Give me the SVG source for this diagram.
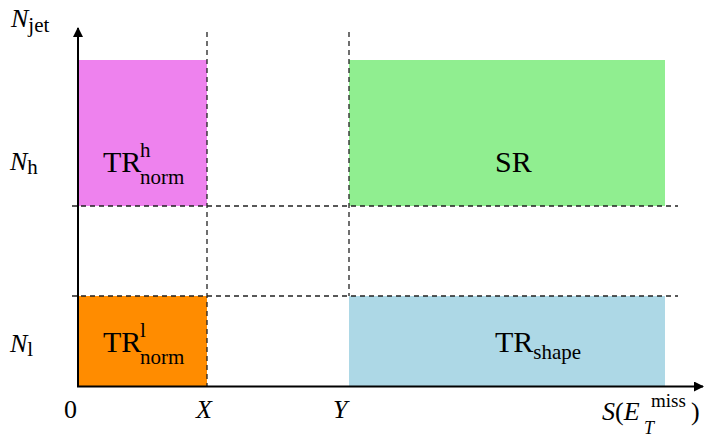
<svg xmlns="http://www.w3.org/2000/svg" width="704" height="438" viewBox="0 0 704 438">
<style>
text{font-family:"Liberation Serif","Times New Roman",serif;fill:#000}
.lab{font-size:30px}
.sub{font-size:21px}
.ax{font-size:26px}
.it{font-style:italic}
.dash{stroke:#222;stroke-width:1.3;stroke-dasharray:5 4;fill:none}
.axis{stroke:#000;stroke-width:2;fill:none}
</style>
<defs>
<marker id="ah" viewBox="0 0 10 10" refX="9" refY="5" markerWidth="10" markerHeight="10" markerUnits="userSpaceOnUse" orient="auto">
<path d="M0,0 L10,5 L0,10 z" fill="#000"/>
</marker>
</defs>
<g id="trh">
<rect x="78" y="60" width="129" height="146" fill="#EE82EE"/>
<text class="lab" x="103" y="172">TR</text>
<text class="sub" x="140" y="157">h</text>
<text class="sub" x="140" y="184">norm</text>
</g>
<g id="sr">
<rect x="349" y="60" width="316" height="146" fill="#90EE90"/>
<text class="lab" x="495" y="172">SR</text>
</g>
<g id="trl">
<rect x="78" y="296" width="129" height="90" fill="#FF8C00"/>
<text class="lab" x="103" y="352">TR</text>
<text class="sub" x="140" y="337">l</text>
<text class="sub" x="140" y="364">norm</text>
</g>
<g id="trshape">
<rect x="349" y="296" width="316" height="90" fill="#ADD8E6"/>
<text class="lab" x="495" y="352">TR<tspan class="sub" dy="7">shape</tspan></text>
</g>
<g id="connectors">
<line class="dash" x1="207" y1="32" x2="207" y2="386"/>
<line class="dash" x1="349" y1="32" x2="349" y2="296"/>
<line class="dash" x1="72" y1="206" x2="678" y2="206"/>
<line class="dash" x1="72" y1="296" x2="678" y2="296"/>
<line class="axis" x1="78" y1="387" x2="78" y2="28" marker-end="url(#ah)"/>
<line class="axis" x1="77" y1="386.5" x2="703" y2="386.5" marker-end="url(#ah)"/>
</g>
<g id="labels">
<text class="ax" x="11" y="27"><tspan class="it">N</tspan><tspan class="sub" dy="5">jet</tspan></text>
<text class="ax" x="10" y="170"><tspan class="it">N</tspan><tspan class="sub" dy="4">h</tspan></text>
<text class="ax" x="10" y="352"><tspan class="it">N</tspan><tspan class="sub" dy="4">l</tspan></text>
<text class="ax" x="64" y="418">0</text>
<text class="ax it" x="196" y="418">X</text>
<text class="ax it" x="333" y="418">Y</text>
<text class="ax" x="602" y="420"><tspan class="it">S</tspan>(<tspan class="it">E</tspan></text>
<text class="sub" x="651" y="407" style="font-size:19px">miss</text>
<text class="sub it" x="644" y="434" style="font-size:18px">T</text>
<text class="ax" x="691" y="420">)</text>
</g>
</svg>
